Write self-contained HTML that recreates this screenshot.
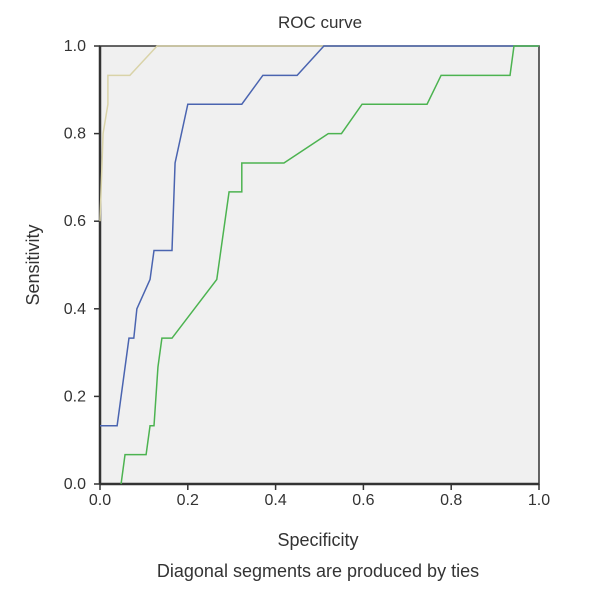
<!DOCTYPE html>
<html><head><meta charset="utf-8"><style>
body{margin:0;background:#fff;}
svg text{font-family:"Liberation Sans",sans-serif;fill:#333;}
</style></head><body>
<svg id="chart" width="610" height="598">
<rect x="100" y="46" width="439" height="438" fill="#f0f0f0" stroke="#333" stroke-width="1.5"/>
<text x="320" y="28" font-size="17" text-anchor="middle">ROC curve</text>
<text transform="translate(39,265) rotate(-90)" font-size="18" text-anchor="middle">Sensitivity</text>
<text x="318" y="546" font-size="18" text-anchor="middle">Specificity</text>
<text x="318" y="577" font-size="18" text-anchor="middle">Diagonal segments are produced by ties</text>
<g id="axes"></g><g id="series"></g>
</svg>
<script>
const ticks=[0,0.2,0.4,0.6,0.8,1.0];
const tickLabels=["0.0","0.2","0.4","0.6","0.8","1.0"];
const beigeX=[0,0.007,0.018,0.018,0.068,0.13,1.0];
const beigeY=[0.6,0.8,0.867,0.933,0.933,1.0,1.0];
const blueX=[0,0.039,0.066,0.077,0.084,0.114,0.123,0.164,0.171,0.2,0.323,0.371,0.449,0.51,1.0];
const blueY=[0.133,0.133,0.333,0.333,0.4,0.467,0.533,0.533,0.733,0.867,0.867,0.933,0.933,1.0,1.0];
const greenX=[0.048,0.057,0.105,0.114,0.123,0.132,0.141,0.164,0.266,0.294,0.323,0.323,0.419,0.52,0.55,0.597,0.745,0.777,0.934,0.943,1.0];
const greenY=[0,0.067,0.067,0.133,0.133,0.267,0.333,0.333,0.467,0.667,0.667,0.733,0.733,0.8,0.8,0.867,0.867,0.933,0.933,1.0,1.0];
const sx=v=>100+v*439, sy=v=>484-v*438;
const NS="http://www.w3.org/2000/svg";
const ax=document.getElementById('axes'), se=document.getElementById('series');
function mk(t,a,p){const e=document.createElementNS(NS,t);for(const k in a)e.setAttribute(k,a[k]);p.appendChild(e);return e;}
ticks.forEach((t,i)=>{
 let l=mk('line',{x1:sx(t),x2:sx(t),y1:484,y2:490,stroke:'#333','stroke-width':1.5},ax);
 
 
 let tx=mk('text',{x:sx(t),y:505,'font-size':16,'text-anchor':'middle'},ax);tx.textContent=tickLabels[i];
 
 
 let l2=mk('line',{x1:94,x2:100,y1:sy(t),y2:sy(t),stroke:'#333','stroke-width':1.5},ax);
 
 
 let ty=mk('text',{x:86,y:sy(t)+5,'font-size':16,'text-anchor':'end'},ax);ty.textContent=tickLabels[i];
 
 
});
mk('line',{x1:100,x2:100,y1:46,y2:484,stroke:'#333','stroke-width':2.5},ax);
mk('line',{x1:100,x2:539,y1:484,y2:484,stroke:'#333','stroke-width':2.5},ax);
function line(xs,ys,c,name){
 const p=mk('polyline',{points:xs.map((x,i)=>sx(x)+','+sy(ys[i])).join(' '),fill:'none',stroke:c,'stroke-width':1.5},se);
 
 
}
line(beigeX,beigeY,'#d9d3a8','roc-curve-beige');
line(blueX,blueY,'#4a64b0','roc-curve-blue');
line(greenX,greenY,'#4cb350','roc-curve-green');
</script>
</body></html>
